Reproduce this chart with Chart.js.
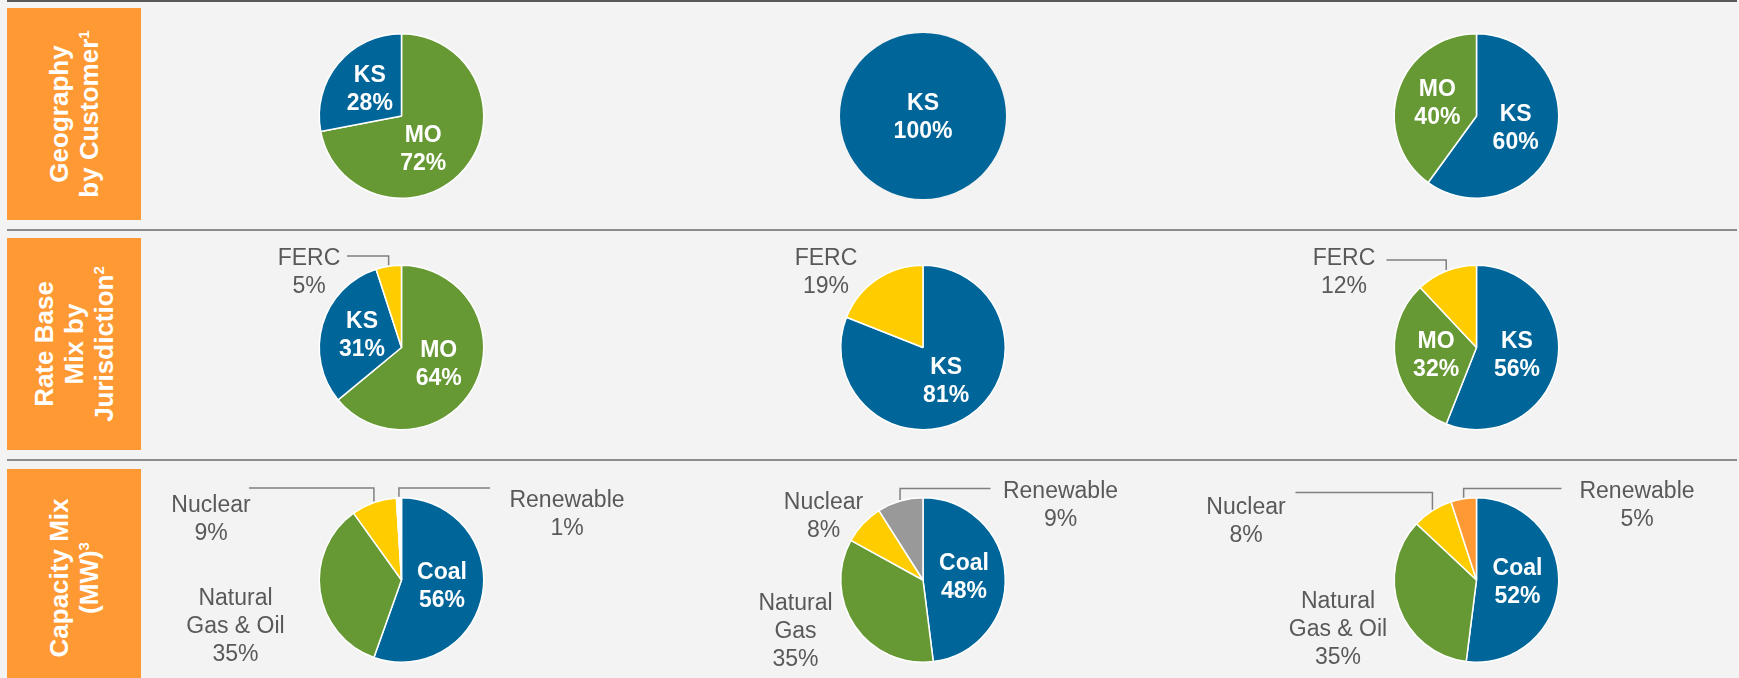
<!DOCTYPE html>
<html>
<head>
<meta charset="utf-8">
<script src="https://cdn.jsdelivr.net/npm/chart.js"></script>
<style>
html, body { margin: 0; padding: 0; background: #f3f3f3; }
#page { position: relative; width: 1739px; height: 678px; overflow: hidden; font-family: "Liberation Sans", Arial, sans-serif; }
.rule { position: absolute; left: 7px; width: 1730px; height: 2px; background: #8c8c8c; }
.side { position: absolute; left: 7px; width: 134px; background: #ff9933; }
.side span { position: absolute; left: 50%; top: 50%; transform: translate(-50%, -50%) rotate(-90deg);
  color: #fff; font-weight: bold; font-size: 26px; line-height: 30px; text-align: center; white-space: nowrap; }
.side sup { font-size: 15px; line-height: 0; vertical-align: 9px; }
canvas { position: absolute; left: 0; top: 0; }
</style>
</head>
<body>
<div id="page"></div>
<script>
// row titles
const rowTitles = [
  ['Geography', 'by Customer<sup>1</sup>'],
  ['Rate Base', 'Mix by', 'Jurisdiction<sup>2</sup>'],
  ['Capacity Mix', '(MW)<sup>3</sup>']
];

// geography by customer
const geoCats1 = ['MO', 'KS'];
const geoVals1 = [72, 28];
const geoCats2 = ['KS'];
const geoVals2 = [100];
const geoCats3 = ['KS', 'MO'];
const geoVals3 = [60, 40];

// rate base mix by jurisdiction
const rateCats1 = ['MO', 'KS', 'FERC'];
const rateVals1 = [64, 31, 5];
const rateCats2 = ['KS', 'FERC'];
const rateVals2 = [81, 19];
const rateCats3 = ['KS', 'MO', 'FERC'];
const rateVals3 = [56, 32, 12];

// capacity mix (MW)
const capCats1 = ['Coal', 'Natural\nGas & Oil', 'Nuclear', 'Renewable'];
const capVals1 = [56, 35, 9, 1];
const capCats2 = ['Coal', 'Natural\nGas', 'Nuclear', 'Renewable'];
const capVals2 = [48, 35, 8, 9];
const capCats3 = ['Coal', 'Natural\nGas & Oil', 'Nuclear', 'Renewable'];
const capVals3 = [52, 35, 8, 5];

const BLUE = '#006699', GREEN = '#669933', YELLOW = '#ffcc00', GREY = '#999999', ORANGE = '#ff9933';
const W = 1739, H = 678, R = 83;
const colX = [401.5, 923, 1476.5];
const rowY = [116, 347.5, 580];

const page = document.getElementById('page');

// horizontal rules + orange side boxes
[0, 229, 459].forEach((y, i) => {
  const d = document.createElement('div');
  d.className = 'rule';
  d.style.top = y + 'px';
  if (i == 0) { d.style.background = '#595959'; d.style.height = '1.5px'; }
  page.appendChild(d);
});
[[8, 212], [238, 212], [469, 217]].forEach((b, i) => {
  const d = document.createElement('div');
  d.className = 'side';
  d.style.top = b[0] + 'px';
  d.style.height = b[1] + 'px';
  d.innerHTML = '<span>' + rowTitles[i].join('<br>') + '</span>';
  page.appendChild(d);
});

function drawLines(ctx, lines, x, y, lh) {
  const y0 = y - (lines.length - 1) * lh / 2;
  lines.forEach((t, k) => ctx.fillText(t, x, y0 + k * lh));
}

const pieLabels = {
  id: 'pieLabels',
  afterDatasetsDraw(chart, args, opts) {
    const ctx = chart.ctx;
    const meta = chart.getDatasetMeta(0);
    const vals = chart.data.datasets[0].data;
    const cats = chart.data.labels;
    const outside = opts.outside || {};
    const nudge = opts.nudge || {};
    meta.data.forEach((arc, i) => {
      const p = arc.getProps(['x', 'y', 'startAngle', 'endAngle', 'outerRadius']);
      const mid = (p.startAngle + p.endAngle) / 2;
      const lines = cats[i].split('\n').concat(vals[i] + '%');
      const out = outside[cats[i]];
      ctx.save();
      ctx.textAlign = 'center';
      ctx.textBaseline = 'middle';
      if (!out) {
        const f = meta.data.length == 1 ? 0 : 0.5;
        const n = nudge[cats[i]] || [0, f ? 0 : 2];
        ctx.font = 'bold 23px "Liberation Sans", Arial, sans-serif';
        ctx.fillStyle = '#ffffff';
        drawLines(ctx, lines, p.x + Math.cos(mid) * p.outerRadius * f + n[0],
          p.y + Math.sin(mid) * p.outerRadius * f + n[1], 28);
      } else {
        ctx.font = '23px "Liberation Sans", Arial, sans-serif';
        ctx.fillStyle = '#595959';
        drawLines(ctx, lines, p.x + out.dx, p.y + out.dy, 28);
        if (out.leader) {
          const ex = p.x + Math.cos(mid) * p.outerRadius;
          const ey = p.y + Math.sin(mid) * (p.outerRadius + 1);
          ctx.strokeStyle = '#808080';
          ctx.lineWidth = 1.5;
          ctx.beginPath();
          ctx.moveTo(p.x + out.leader[0], p.y + out.leader[1]);
          ctx.lineTo(ex, p.y + out.leader[1]);
          ctx.lineTo(ex, ey);
          ctx.stroke();
        }
      }
      ctx.restore();
    });
  }
};

const pies = [
  {cats: geoCats1, vals: geoVals1, colors: [GREEN, BLUE], col: 0, row: 0,
    nudge: {MO: [-10, 7]}},
  {cats: geoCats2, vals: geoVals2, colors: [BLUE], col: 1, row: 0},
  {cats: geoCats3, vals: geoVals3, colors: [BLUE, GREEN], col: 2, row: 0},
  {cats: rateCats1, vals: rateVals1, colors: [GREEN, BLUE, YELLOW], col: 0, row: 1,
    outside: {FERC: {dx: -92.5, dy: -75, leader: [-54.5, -91.5]}}},
  {cats: rateCats2, vals: rateVals2, colors: [BLUE, YELLOW], col: 1, row: 1,
    outside: {FERC: {dx: -97, dy: -75}}},
  {cats: rateCats3, vals: rateVals3, colors: [BLUE, GREEN, YELLOW], col: 2, row: 1,
    outside: {FERC: {dx: -132.5, dy: -75, leader: [-90, -87.5]}}},
  {cats: capCats1, vals: capVals1, colors: [BLUE, GREEN, YELLOW, '#ffffff'], col: 0, row: 2,
    outside: {'Natural\nGas & Oil': {dx: -166, dy: 46.5},
      Nuclear: {dx: -190.5, dy: -60.5, leader: [-152.5, -92]},
      Renewable: {dx: 165.5, dy: -65, leader: [88.5, -92]}}},
  {cats: capCats2, vals: capVals2, colors: [BLUE, GREEN, YELLOW, GREY], col: 1, row: 2,
    outside: {'Natural\nGas': {dx: -127.5, dy: 51.5},
      Nuclear: {dx: -99.5, dy: -63.5},
      Renewable: {dx: 137.5, dy: -74, leader: [67.5, -91.5]}}},
  {cats: capCats3, vals: capVals3, colors: [BLUE, GREEN, YELLOW, ORANGE], col: 2, row: 2,
    outside: {'Natural\nGas & Oil': {dx: -138.5, dy: 50},
      Nuclear: {dx: -230.5, dy: -58.5, leader: [-181, -87.5]},
      Renewable: {dx: 160.5, dy: -74, leader: [85, -91.5]}}}
];

pies.forEach(pie => {
  const cv = document.createElement('canvas');
  cv.width = W;
  cv.height = H;
  page.appendChild(cv);
  const cx = colX[pie.col], cy = rowY[pie.row];
  new Chart(cv, {
    type: 'pie',
    data: {
      labels: pie.cats,
      datasets: [{
        data: pie.vals,
        backgroundColor: pie.colors,
        borderColor: '#ffffff',
        // a lone full slice gets no border, otherwise a seam shows at 12 o'clock
        borderWidth: pie.vals.length > 1 ? 1.5 : 0
      }]
    },
    options: {
      responsive: false,
      animation: false,
      devicePixelRatio: 1,
      events: [],
      layout: {padding: {left: cx - R, right: W - cx - R, top: cy - R, bottom: H - cy - R}},
      plugins: {
        legend: {display: false},
        tooltip: {enabled: false},
        pieLabels: {outside: pie.outside || {}, nudge: pie.nudge || {}}
      }
    },
    plugins: [pieLabels]
  });
});
</script>
</body>
</html>
